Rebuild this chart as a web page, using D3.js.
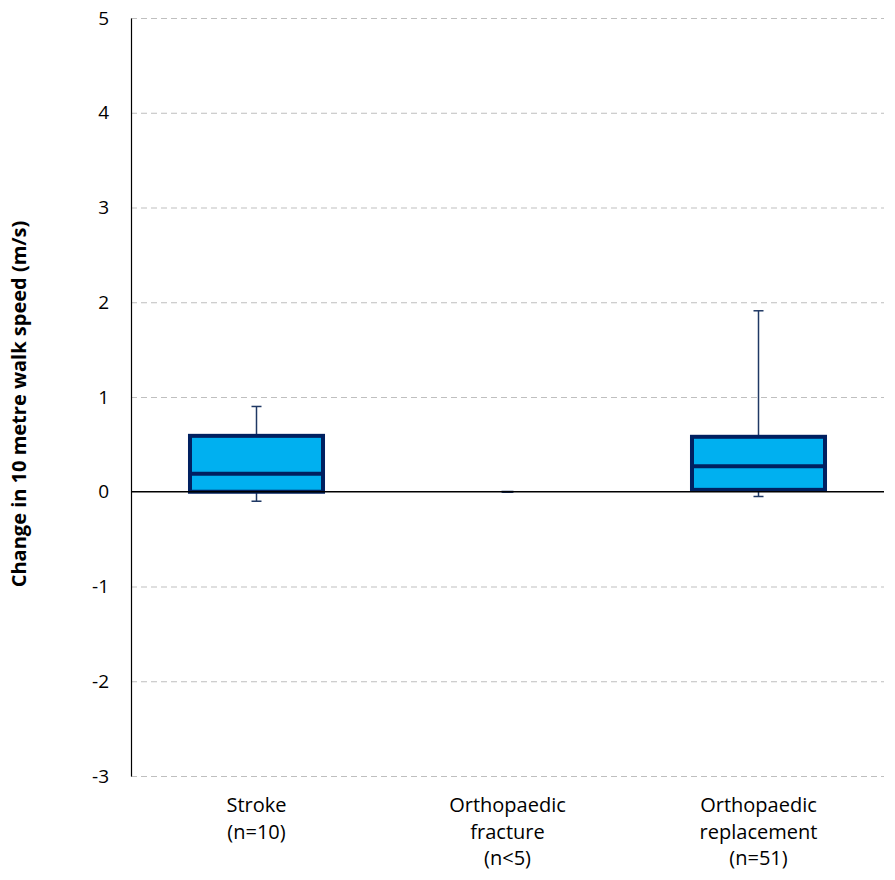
<!DOCTYPE html>
<html>
<head>
<meta charset="utf-8">
<script src="https://cdn.jsdelivr.net/npm/d3@7"></script>
<style>
  body { margin: 0; background: #fff; }
  text { font-family: "Open Sans", "Noto Sans", sans-serif; fill: #000; }
</style>
</head>
<body>
<div id="chart"></div>
<script>
// categories and box statistics
var categories = [
    ["Stroke", "(n=10)"],
    ["Orthopaedic", "fracture", "(n<5)"],
    ["Orthopaedic", "replacement", "(n=51)"]
];
var whiskerLow = [-0.1, 0, -0.05];
var q1 = [0.0, 0, 0.02];
var median = [0.19, 0, 0.27];
var q3 = [0.59, 0, 0.58];
var whiskerHigh = [0.9, 0, 1.91];
var yTicks = [-3, -2, -1, 0, 1, 2, 3, 4, 5];

var width = 895, height = 880;
var margin = {top: 18, right: 11, bottom: 104, left: 131};

var svg = d3.select('#chart')
    .append('svg')
    .attr('width', width)
    .attr('height', height);

var x = d3.scaleBand()
    .domain(d3.range(categories.length))
    .range([margin.left, width - margin.right])
    .paddingInner(0.47)
    .paddingOuter(0.235);

var y = d3.scaleLinear()
    .domain([-3, 5])
    .range([height - margin.bottom, margin.top]);

// dashed gridlines
svg.append('g')
    .selectAll('line')
    .data(yTicks.filter(function (d) { return d !== 0; }))
    .enter().append('line')
    .attr('x1', margin.left)
    .attr('x2', width - margin.right)
    .attr('y1', function (d) { return y(d) + 0.5; })
    .attr('y2', function (d) { return y(d) + 0.5; })
    .attr('stroke', '#bfbfbf')
    .attr('stroke-width', 1.2)
    .attr('stroke-dasharray', '6,4');

// y axis
var yAxis = svg.append('g')
    .attr('transform', 'translate(' + margin.left + ',0)')
    .call(d3.axisLeft(y).tickValues(yTicks).tickSize(0).tickPadding(22)
        .tickFormat(function (d) { return String(d); }));
yAxis.select('.domain').attr('stroke', '#000').attr('stroke-width', 1.2);
yAxis.selectAll('text').style('font-size', '19px').attr('fill', '#000');

// y title
svg.append('text')
    .attr('transform', 'translate(26,' + ((y(5) + y(-3)) / 2 + 7) + ') rotate(-90)')
    .attr('text-anchor', 'middle')
    .style('font-size', '20px')
    .style('font-weight', 'bold')
    .text('Change in 10 metre walk speed (m/s)');

// x category labels
var labels = svg.append('g')
    .selectAll('text')
    .data(categories)
    .enter().append('text')
    .attr('text-anchor', 'middle')
    .style('font-size', '20px')
    .attr('x', function (d, i) { return x(i) + x.bandwidth() / 2; })
    .attr('y', 812);
labels.selectAll('tspan')
    .data(function (d) { return d; })
    .enter().append('tspan')
    .attr('x', function () { return d3.select(this.parentNode).attr('x'); })
    .attr('dy', function (d, i) { return i === 0 ? 0 : 26.5; })
    .text(function (d) { return d; });

// boxes
var boxes = svg.append('g')
    .selectAll('g')
    .data(categories)
    .enter().append('g');

boxes.append('line')
    .attr('x1', function (d, i) { return x(i) + x.bandwidth() / 2; })
    .attr('x2', function (d, i) { return x(i) + x.bandwidth() / 2; })
    .attr('y1', function (d, i) { return y(whiskerHigh[i]); })
    .attr('y2', function (d, i) { return y(whiskerLow[i]); })
    .attr('stroke', '#1f3864')
    .attr('stroke-width', 1.5);

[whiskerHigh, whiskerLow].forEach(function (arr) {
    boxes.append('line')
        .attr('x1', function (d, i) { return x(i) + x.bandwidth() / 2 - 5; })
        .attr('x2', function (d, i) { return x(i) + x.bandwidth() / 2 + 5; })
        .attr('y1', function (d, i) { return y(arr[i]); })
        .attr('y2', function (d, i) { return y(arr[i]); })
        .attr('stroke', '#1f3864')
        .attr('stroke-width', 1.5);
});

// zero line drawn over whiskers, under boxes
svg.append('line')
    .attr('x1', margin.left)
    .attr('x2', width - margin.right)
    .attr('y1', y(0))
    .attr('y2', y(0))
    .attr('stroke', '#000')
    .attr('stroke-width', 1.3);

boxes.append('rect')
    .attr('x', function (d, i) { return x(i); })
    .attr('width', x.bandwidth())
    .attr('y', function (d, i) { return y(q3[i]); })
    .attr('height', function (d, i) { return y(q1[i]) - y(q3[i]); })
    .attr('fill', '#00b0f0')
    .attr('stroke', '#002060')
    .attr('stroke-width', function (d, i) { return q3[i] - q1[i] > 0 ? 4 : 0; });

boxes.append('line')
    .attr('x1', function (d, i) { return q3[i] - q1[i] > 0 ? x(i) : x(i) + x.bandwidth() / 2 - 6; })
    .attr('x2', function (d, i) { return q3[i] - q1[i] > 0 ? x(i) + x.bandwidth() : x(i) + x.bandwidth() / 2 + 6; })
    .attr('y1', function (d, i) { return y(median[i]); })
    .attr('y2', function (d, i) { return y(median[i]); })
    .attr('stroke', '#002060')
    .attr('stroke-width', function (d, i) { return q3[i] - q1[i] > 0 ? 4 : 2; });
</script>
</body>
</html>
